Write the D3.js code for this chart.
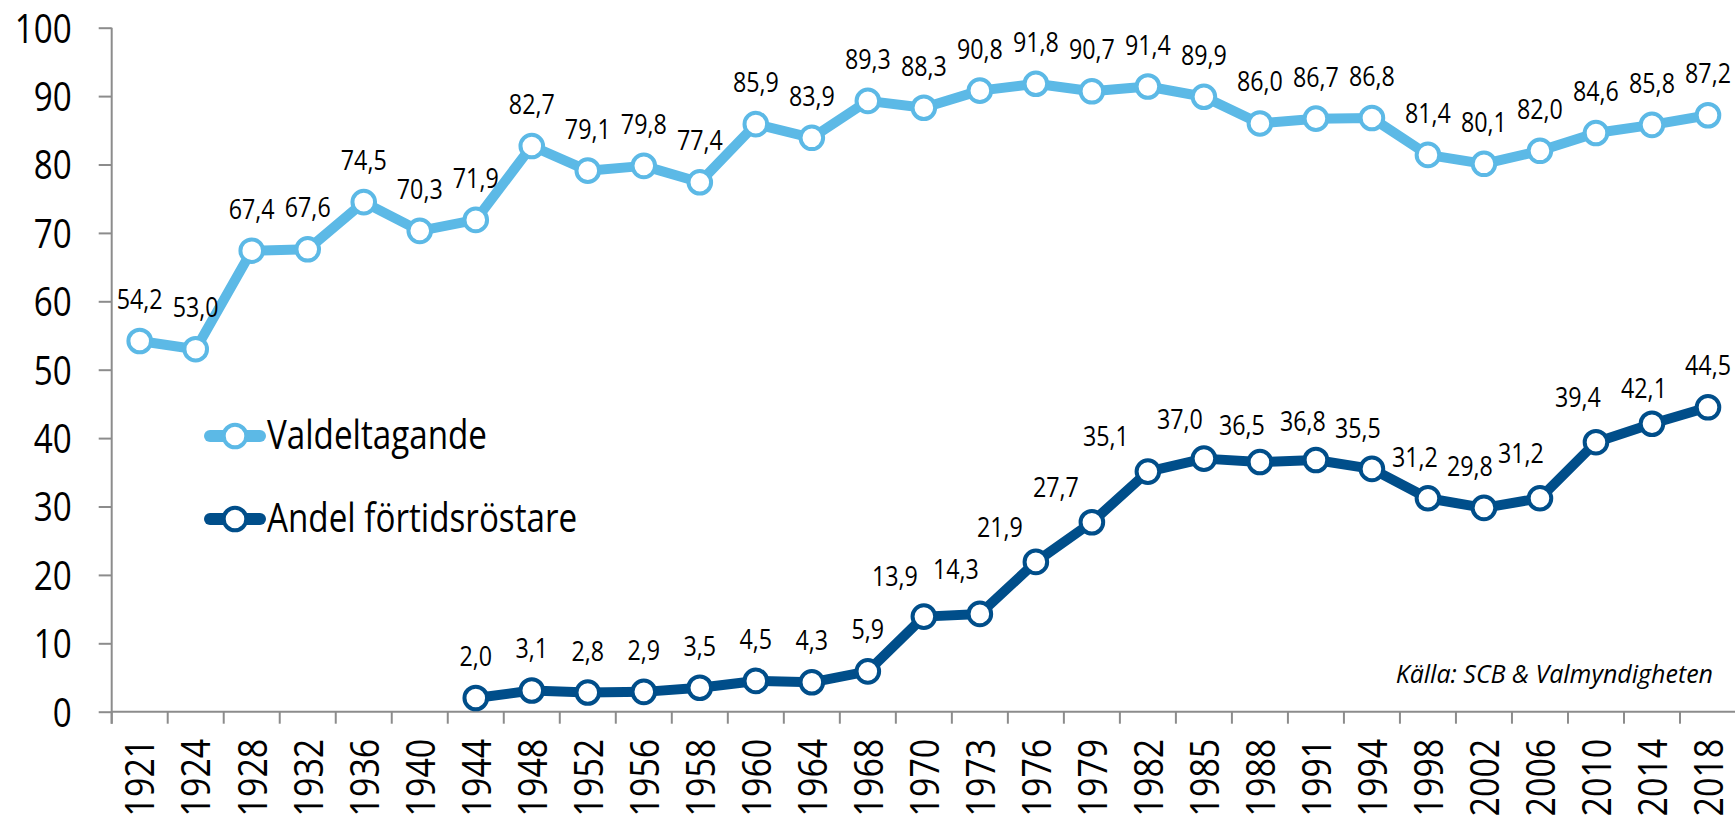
<!DOCTYPE html>
<html>
<head>
<meta charset="utf-8">
<script src="https://cdn.jsdelivr.net/npm/d3@7"></script>
<style>
    html, body { margin: 0; padding: 0; background: #fff; }
    svg { display: block; }
</style>
</head>
<body>
<div id="chart"></div>
<script>

var years = ["1921","1924","1928","1932","1936","1940","1944","1948","1952","1956","1958","1960","1964","1968",
             "1970","1973","1976","1979","1982","1985","1988","1991","1994","1998","2002","2006","2010","2014","2018"];

var turnout = [54.2, 53.0, 67.4, 67.6, 74.5, 70.3, 71.9, 82.7, 79.1, 79.8, 77.4, 85.9, 83.9, 89.3,
               88.3, 90.8, 91.8, 90.7, 91.4, 89.9, 86.0, 86.7, 86.8, 81.4, 80.1, 82.0, 84.6, 85.8, 87.2];

var earlyVoters = [null, null, null, null, null, null, 2.0, 3.1, 2.8, 2.9, 3.5, 4.5, 4.3, 5.9,
                   13.9, 14.3, 21.9, 27.7, 35.1, 37.0, 36.5, 36.8, 35.5, 31.2, 29.8, 31.2, 39.4, 42.1, 44.5];

var yTicks = [0, 10, 20, 30, 40, 50, 60, 70, 80, 90, 100];

var seriesNames = ["Valdeltagande", "Andel förtidsröstare"];
var sourceNote = "Källa: SCB & Valmyndigheten";


TurnoutChart = function(container){

    this.container = container;
    this.full_width = 1735;
    this.full_height = 820;

    this.cs = {
        light: "#5cb9e6",
        dark: "#004e8a",
        axis: "#8c8c8c",
        text: "#000"
    };

    // no condensed font installed, so squeeze Open Sans horizontally
    this.font = "'Open Sans', sans-serif";
    this.squeeze = 0.83;

    // swedish decimal comma
    this.fmt = d3.formatLocale({decimal: ",", thousands: " ", grouping: [3], currency: ["", " kr"]}).format(".1f");

    this._init();

};

TurnoutChart.prototype._init = function(){

    this._build_graph();
    this._draw_axes();
    this._draw_series(turnout, this.cs.light, {});
    this._draw_series(earlyVoters, this.cs.dark, this._dark_nudges());
    this._draw_legend();
    this._draw_source();

};

TurnoutChart.prototype._narrow = function(x, y, rot){
    return "translate(" + x + "," + y + ")" + (rot ? " rotate(" + rot + ")" : "") + " scale(" + this.squeeze + ",1)";
};

TurnoutChart.prototype._build_graph = function(){

    this._svg = d3.select(this.container)
        .append("svg")
        .attr("width", this.full_width)
        .attr("height", this.full_height);

    this.x = d3.scaleBand()
        .domain(years)
        .range([111.7, 1736]);

    this.y = d3.scaleLinear()
        .domain([0, 100])
        .range([711.7, 27.7]);

};

TurnoutChart.prototype._draw_axes = function(){

    var self = this;
    var x = this.x, y = this.y;

    var yAxis = d3.axisLeft(y)
        .tickValues(yTicks)
        .tickSize(13)
        .tickFormat(d3.format("d"));

    var gy = this._svg.append("g")
        .attr("transform", "translate(" + x.range()[0] + ",0)")
        .call(yAxis);

    gy.select(".domain").remove();
    gy.selectAll(".tick line").attr("stroke", self.cs.axis).attr("stroke-width", 2);
    gy.selectAll(".tick text")
        .attr("x", null)
        .attr("dy", "0.36em")
        .attr("transform", self._narrow(-40, 0))
        .attr("font-family", self.font)
        .attr("font-size", 40)
        .attr("fill", self.cs.text);

    // vertical axis line (runs down to the bottom of the category ticks)
    this._svg.append("line")
        .attr("x1", x.range()[0]).attr("x2", x.range()[0])
        .attr("y1", y(100)).attr("y2", y(0) + 12)
        .attr("stroke", self.cs.axis)
        .attr("stroke-width", 2);

    // horizontal axis line
    this._svg.append("line")
        .attr("x1", x.range()[0]).attr("x2", this.full_width)
        .attr("y1", y(0)).attr("y2", y(0))
        .attr("stroke", self.cs.axis)
        .attr("stroke-width", 2);

    // category boundary ticks
    var bounds = years.map(function(d){ return x(d); });
    bounds.push(x.range()[1]);

    this._svg.append("g")
        .selectAll("line")
        .data(bounds)
        .join("line")
        .attr("x1", function(d){ return d; })
        .attr("x2", function(d){ return d; })
        .attr("y1", y(0))
        .attr("y2", y(0) + 12)
        .attr("stroke", self.cs.axis)
        .attr("stroke-width", 2);

    // rotated year labels
    this._svg.append("g")
        .selectAll("text")
        .data(years)
        .join("text")
        .attr("transform", function(d){
            return self._narrow(x(d) + x.bandwidth() / 2, y(0) + 27, -90);
        })
        .attr("text-anchor", "end")
        .attr("dy", "0.36em")
        .attr("font-family", self.font)
        .attr("font-size", 41)
        .attr("fill", self.cs.text)
        .text(function(d){ return d; });

};

TurnoutChart.prototype._dark_nudges = function(){

    // hand-placed labels on the steep part of the early-voting line [dx, rise]
    return {
        "1970": [-29, 31], "1973": [-24, 35], "1976": [-36, 25], "1979": [-36, 25],
        "1982": [-42, 26], "1985": [-24, 30], "1988": [-18, 27], "1991": [-13, 29],
        "1994": [-14, 31], "1998": [-13, 31], "2002": [-14, 32], "2006": [-19, 35],
        "2010": [-18, 35], "2014": [-8, 26]
    };

};

TurnoutChart.prototype._draw_series = function(values, color, nudges){

    var self = this;
    var x = this.x, y = this.y;
    var half = x.bandwidth() / 2;

    var pts = years.map(function(d, i){ return {year: d, v: values[i]}; })
        .filter(function(d){ return d.v != null; });

    var line = d3.line()
        .x(function(d){ return x(d.year) + half; })
        .y(function(d){ return y(d.v); });

    this._svg.append("path")
        .datum(pts)
        .attr("d", line)
        .attr("fill", "none")
        .attr("stroke", color)
        .attr("stroke-width", 10)
        .attr("stroke-linejoin", "round");

    this._svg.append("g")
        .selectAll("circle")
        .data(pts)
        .join("circle")
        .attr("cx", function(d){ return x(d.year) + half; })
        .attr("cy", function(d){ return y(d.v); })
        .attr("r", 11.3)
        .attr("fill", "#fff")
        .attr("stroke", color)
        .attr("stroke-width", 4);

    this._svg.append("g")
        .selectAll("text")
        .data(pts)
        .join("text")
        .attr("transform", function(d){
            var n = nudges[d.year];
            var lx = x(d.year) + half + (n ? n[0] : 0);
            var ly = y(d.v) - (n ? n[1] : 32);
            return self._narrow(lx, ly);
        })
        .attr("text-anchor", "middle")
        .attr("font-family", self.font)
        .attr("font-size", 28)
        .attr("fill", self.cs.text)
        .text(function(d){ return self.fmt(d.v); });

};

TurnoutChart.prototype._draw_legend = function(){

    var self = this;
    var colors = [this.cs.light, this.cs.dark];
    var rows = [436, 519];

    var g = this._svg.append("g");

    seriesNames.forEach(function(name, i){

        g.append("line")
            .attr("x1", 210).attr("x2", 260)
            .attr("y1", rows[i]).attr("y2", rows[i])
            .attr("stroke", colors[i])
            .attr("stroke-width", 12)
            .attr("stroke-linecap", "round");

        g.append("circle")
            .attr("cx", 235)
            .attr("cy", rows[i])
            .attr("r", 11.3)
            .attr("fill", "#fff")
            .attr("stroke", colors[i])
            .attr("stroke-width", 4);

        g.append("text")
            .attr("transform", self._narrow(267, rows[i] + 13))
            .attr("font-family", self.font)
            .attr("font-size", 40)
            .attr("fill", self.cs.text)
            .text(name);
    });

};

TurnoutChart.prototype._draw_source = function(){

    this._svg.append("text")
        .attr("x", 1713)
        .attr("y", 683)
        .attr("text-anchor", "end")
        .attr("font-family", "'Open Sans', sans-serif")
        .attr("font-style", "italic")
        .attr("font-size", 25)
        .attr("fill", this.cs.text)
        .text(sourceNote);

};

var chart = new TurnoutChart("#chart");

</script>
</body>
</html>
